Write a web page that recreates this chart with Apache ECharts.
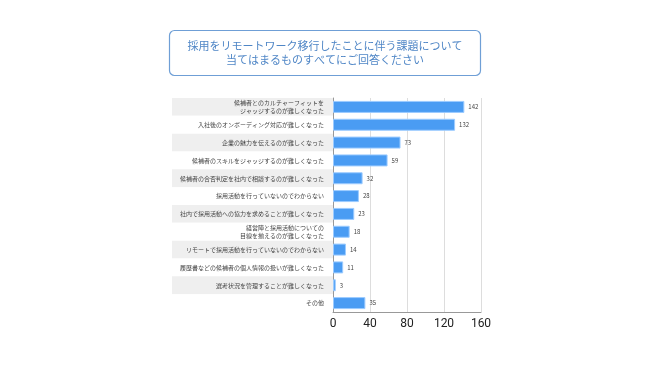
<!DOCTYPE html>
<html><head><meta charset="utf-8">
<script src="https://cdn.jsdelivr.net/npm/echarts@6/dist/echarts.min.js"></script>
<style>html,body{margin:0;padding:0;background:#fff}#c{width:650px;height:365px}</style>
</head><body><div id="c"></div>
<script>
var titleLines = ['採用をリモートワーク移行したことに伴う課題について', '当てはまるものすべてにご回答ください'];
var categories = [
  '候補者とのカルチャーフィットを\nジャッジするのが難しくなった',
  '入社後のオンボーディング対応が難しくなった',
  '企業の魅力を伝えるのが難しくなった',
  '候補者のスキルをジャッジするのが難しくなった',
  '候補者の合否判定を社内で相談するのが難しくなった',
  '採用活動を行っていないのでわからない',
  '社内で採用活動への協力を求めることが難しくなった',
  '経営陣と採用活動についての\n目線を揃えるのが難しくなった',
  'リモートで採用活動を行っていないのでわからない',
  '履歴書などの候補者の個人情報の扱いが難しくなった',
  '選考状況を管理することが難しくなった',
  'その他'
];
var values = [142, 132, 73, 59, 32, 28, 23, 18, 14, 11, 3, 35];
var xTicks = [0, 40, 80, 120, 160];

var font = '"Noto Sans CJK JP", "Noto Sans", sans-serif';
var chart = echarts.init(document.getElementById('c'), null, {renderer: 'canvas'});
chart.setOption({
  animation: false,
  backgroundColor: '#fff',
  textStyle: {fontFamily: font},
  graphic: [
    {type: 'rect', shape: {x: 169.5, y: 30.5, width: 311, height: 45, r: 5},
     style: {fill: '#fff', stroke: '#6f9fd6', lineWidth: 1.2}},
    {type: 'text', x: 325, y: 53,
     style: {text: titleLines.join('\n'), fill: '#4f86c6', font: '11px ' + font,
             align: 'center', verticalAlign: 'middle', lineHeight: 14}}
  ],
  grid: [
    {left: 333, right: 169, top: 98, bottom: 53},
    {left: 172, right: 317, top: 98, bottom: 53}
  ],
  xAxis: [
    {type: 'value', gridIndex: 0, min: xTicks[0], max: xTicks[xTicks.length - 1], interval: 40,
     axisLine: {show: true, lineStyle: {color: '#999'}},
     axisTick: {show: false},
     splitLine: {show: true, lineStyle: {color: '#ddd'}},
     axisLabel: {color: '#222', fontSize: 12, margin: 6, fontFamily: 'Roboto, sans-serif'}},
    {type: 'value', gridIndex: 1, show: false}
  ],
  yAxis: [
    {type: 'category', gridIndex: 0, data: categories, inverse: true, z: 2,
     axisLine: {show: true, lineStyle: {color: '#999'}},
     axisTick: {show: false},
     axisLabel: {color: '#444', fontSize: 6, margin: 9, lineHeight: 8.5, align: 'right', interval: 0}},
    {type: 'category', gridIndex: 1, data: categories, inverse: true, z: -1,
     axisLine: {show: false}, axisTick: {show: false}, axisLabel: {show: false},
     splitArea: {show: true, interval: 0, areaStyle: {color: ['#efefef', '#ffffff']}}}
  ],
  series: [{
    type: 'bar', xAxisIndex: 0, yAxisIndex: 0, data: values, barWidth: 12,
    itemStyle: {color: '#4a9cf3', borderColor: '#9ccbff', borderWidth: 1},
    label: {show: true, position: 'right', distance: 4, color: '#444', fontSize: 6}
  }]
});
</script></body></html>
